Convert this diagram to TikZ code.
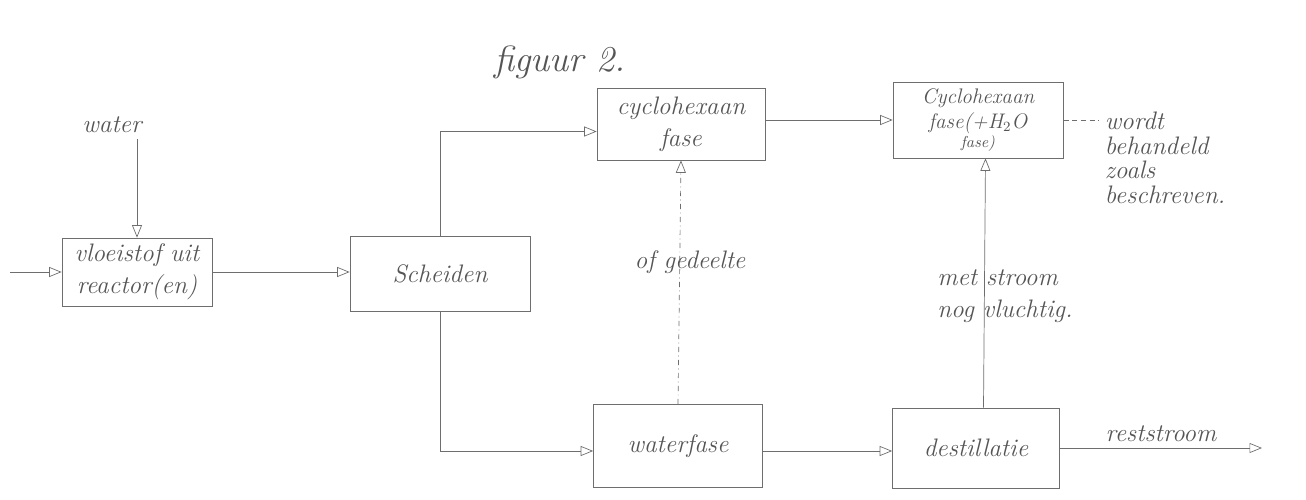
\documentclass[tikz,border=0pt]{standalone}
\usepackage{tikz}
\usetikzlibrary{positioning,arrows.meta,calc}
\usepackage{xcolor}
\definecolor{Pencil}{RGB}{110,110,110}
\definecolor{PencilText}{RGB}{85,85,85}

\begin{document}
\begin{tikzpicture}[x=0.02cm, y=-0.02cm,
    proc/.style={rectangle, draw=Pencil, thin, minimum width=3.4cm,
                 minimum height=1.5cm, align=center, text=PencilText,
                 font=\Large\itshape},
    note/.style={text=PencilText, font=\Large\itshape, align=left},
    arrow/.style={-{Triangle[open, length=2.5mm, width=2mm]}, draw=Pencil, thin}
]
    \useasboundingbox (0,0) rectangle (1306,500);

    \node[note, font=\huge\itshape] (title) at (560,62) {figuur 2.};

    \node[proc, minimum width=3.0cm, minimum height=1.36cm, inner sep=1pt] (vloei) at (137,272)
        {vloeistof uit\\reactor(en)};
    \node[proc, minimum width=3.6cm] (scheid) at (440,274) {Scheiden};
    \node[proc, minimum width=3.36cm, minimum height=1.44cm, inner sep=1pt] (cyc) at (681,124)
        {cyclohexaan\\fase};
    \node[proc, minimum height=1.52cm, inner sep=1pt, font=\large\itshape] (cycw) at (978,120)
        {Cyclohexaan\\fase(+H$_2$O\\[-3pt]{\small fase)}};
    \node[proc, minimum width=3.38cm, minimum height=1.66cm] (waterf) at (678,446)
        {waterfase};
    \node[proc, minimum width=3.34cm, minimum height=1.6cm] (dest) at (976,448)
        {destillatie};

    \node[note] (water) at (112,125) {water};
    \node[note, align=left] (beh) at (1165,158)
        {wordt\\[-4pt]behandeld\\[-4pt]zoals\\[-4pt]beschreven.};
    \node[note] (deel) at (690,262) {of gedeelte};
    \node[note] (damp) at (1005,296) {met stroom\\nog vluchtig.};
    \coordinate (in) at (10,272);
    \coordinate (rest) at (1262,448);

    \draw[arrow] (in) -- (vloei.west);
    \draw[arrow] (vloei.north |- water.south) -- (vloei.north);
    \draw[arrow] (vloei.east) -- (vloei.east -| scheid.west);
    \draw[arrow] (scheid.north) |- ([yshift=-0.15cm]cyc.west);
    \draw[arrow] (scheid.south) |- ([yshift=-0.1cm]waterf.west);
    \draw[arrow] (cyc.east |- cycw.west) -- (cycw.west);
    \draw[arrow, dash dot] (waterf.north) -- (cyc.south);
    \draw[arrow] ([yshift=-0.1cm]waterf.east) -- ([yshift=-0.1cm]waterf.east -| dest.west);
    \draw[arrow] ([xshift=0.15cm]dest.north) -- ([xshift=0.15cm]cycw.south);
    \draw[arrow] (dest.east) -- node[note, above] (restl) {reststroom} (rest);
    \draw[draw=Pencil, thin, densely dashed] (cycw.east) -- (cycw.east -| beh.west);
\end{tikzpicture}
\end{document}
